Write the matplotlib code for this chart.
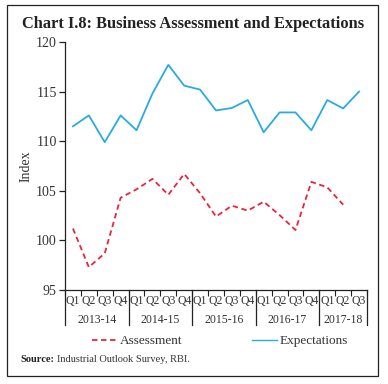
import matplotlib
matplotlib.use("Agg")
import matplotlib.pyplot as plt
from matplotlib.lines import Line2D
from matplotlib.patches import Rectangle

quarters = ["Q1", "Q2", "Q3", "Q4"] * 4 + ["Q1", "Q2", "Q3"]
years = ["2013-14", "2014-15", "2015-16", "2016-17", "2017-18"]
year_sizes = [4, 4, 4, 4, 3]

expectations = [111.5, 112.6, 109.9, 112.6, 111.1, 114.8, 117.7, 115.6,
                115.2, 113.1, 113.35, 114.15, 110.9, 112.9, 112.9, 111.1,
                114.15, 113.3, 115.0]
assessment = [101.2, 97.3, 98.7, 104.3, 105.15, 106.2, 104.6, 106.7,
              104.75, 102.4, 103.5, 103.0, 103.9, 102.55, 101.05, 105.9,
              105.35, 103.6]

plt.rcParams["font.family"] = ["Liberation Serif", "DejaVu Serif"]
text_color = "#333333"

fig = plt.figure(figsize=(3.88, 3.84), dpi=100)
ax = fig.add_axes([65 / 388, 1 - 290 / 384, 302 / 388, 248 / 384])

blue = "#29abe2"
red = "#e8253d"
ax.plot(range(len(expectations)), expectations, color=blue, lw=1.3)
ax.plot(range(len(assessment)), assessment, color=red, lw=1.3, dashes=(3, 2))

ax.set_xlim(-0.5, len(quarters) - 0.5)
ax.set_ylim(95, 120)
ax.set_yticks([95, 100, 105, 110, 115, 120])
ax.tick_params(axis="y", labelsize=10, length=4, width=0.9, colors="#222222",
               labelcolor=text_color, pad=2)
ax.set_ylabel("Index", fontsize=10, color=text_color, labelpad=2)

ax.spines["top"].set_visible(False)
ax.spines["right"].set_visible(False)
for s in ["left", "bottom"]:
    ax.spines[s].set_linewidth(0.9)
    ax.spines[s].set_color("#222222")

# quarter ticks at boundaries
ax.set_xticks([i - 0.5 for i in range(len(quarters) + 1)])
ax.set_xticklabels([])
ax.tick_params(axis="x", length=4, width=0.8, colors="#222222")

trans = ax.get_xaxis_transform()
for i, q in enumerate(quarters):
    ax.text(i, -0.045, q, transform=trans, ha="center", va="center",
            fontsize=8.5, color=text_color)

# year separators and labels
start = 0
bounds = [-0.5]
for y, n in zip(years, year_sizes):
    ax.text(start + (n - 1) / 2, -0.12, y, transform=trans, ha="center",
            va="center", fontsize=8.5, color=text_color)
    start += n
    bounds.append(start - 0.5)
for b in bounds:
    ax.plot([b, b], [0, -0.142], transform=trans, color="#222222", lw=0.9,
            clip_on=False)

fig.text(193 / 388, 1 - 24 / 384, "Chart I.8: Business Assessment and Expectations",
         ha="center", va="center", fontsize=11.8, fontweight="bold",
         color="#222222")

handles = [Line2D([], [], color=red, lw=1.3, dashes=(3, 2)),
           Line2D([], [], color=blue, lw=1.0)]
fig.legend(handles, ["Assessment", "Expectations"], loc="center",
           bbox_to_anchor=(220 / 388, 1 - 341 / 384), ncol=2, frameon=False,
           fontsize=9.5, handlelength=1.9, handletextpad=0.2,
           columnspacing=5.3, labelcolor=text_color)

src = fig.text(20 / 388, 1 - 360 / 384, "Source:", ha="left", va="center",
               fontsize=7.5, fontweight="bold", color="#222222")
renderer = fig.canvas.get_renderer()
src_end = src.get_window_extent(renderer=renderer).x1
fig.text((src_end + 3) / 388, 1 - 360 / 384, "Industrial Outlook Survey, RBI.",
         ha="left", va="center", fontsize=7.5, color=text_color)

fig.patches.append(Rectangle((7 / 388, 1 - 376 / 384), 371 / 388, 371 / 384,
                             transform=fig.transFigure, fill=False,
                             edgecolor="#222222", lw=0.9))

fig.savefig("out.png", dpi=100)
